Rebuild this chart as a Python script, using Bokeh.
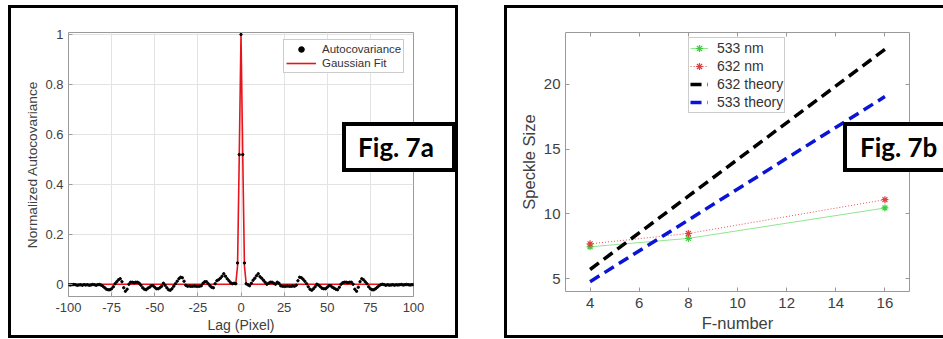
from bokeh.plotting import figure
from bokeh.models import (Legend, LegendItem, FixedTicker, LinearAxis, Range1d, Div)
from bokeh.layouts import row
from bokeh.embed import file_html
from bokeh.resources import INLINE

# ---------------- Fig. 7a data ----------------
lags = list(range(-100, 101))
# normalized autocovariance, lags -100 .. -1
acov_neg = [0.000, -0.001, 0.000, 0.001, 0.000, -0.002, -0.001, 0.000, -0.002, 0.000,
            -0.001, 0.000, -0.002, -0.001, 0.001, 0.000, -0.002, 0.000, 0.001,
            -0.002, -0.006, -0.012, -0.018, -0.020, -0.020, -0.016, -0.008, 0.004, 0.012,
            0.020, 0.024, 0.012, -0.012, -0.026, -0.018, 0.002, 0.010, 0.010, 0.008,
            0.010, 0.010, 0.006, -0.002, -0.012, -0.018, -0.020, -0.014, -0.010, -0.004,
            -0.004, -0.010, -0.016, -0.016, -0.012, -0.006, 0.006, -0.002, -0.012, -0.020,
            -0.022, -0.016, -0.006, 0.004, 0.014, 0.024, 0.030, 0.028, 0.014, -0.002,
            -0.006, -0.005, -0.006, -0.006, -0.005, -0.006, -0.006, -0.006, -0.004, 0.006,
            0.012, 0.012, 0.004, -0.004, -0.010, -0.012, 0.004, 0.016, 0.020, 0.026,
            0.034, 0.044, 0.034, 0.024, 0.016, 0.008, 0.004, 0.006, 0.004, 0.087,
            0.520]
# lags 0 .. 100
acov_pos = [1.000, 0.520, 0.087, 0.004, 0.000, -0.004, 0.006, 0.018, 0.026, 0.036,
            0.044, 0.032, 0.026, 0.018, 0.010, 0.002, 0.006, 0.010, 0.010, 0.006,
            0.002, 0.010, 0.006, -0.004, -0.006, -0.006, -0.006, -0.005, -0.006, -0.006,
            -0.005, -0.006, -0.002, 0.016, 0.030, 0.028, 0.022, 0.014, 0.004, -0.008,
            -0.018, -0.022, -0.016, -0.008, 0.002, -0.002, -0.008, -0.014, -0.016, -0.016,
            -0.010, -0.004, -0.004, -0.010, -0.014, -0.018, -0.020, -0.010, 0.002, 0.008,
            0.010, 0.010, 0.008, 0.010, 0.010, 0.002, -0.018, -0.026, -0.010, 0.012,
            0.024, 0.020, 0.012, 0.004, -0.008, -0.016, -0.020, -0.020, -0.016, -0.010,
            -0.004, 0.000, 0.002, 0.000, -0.002, 0.000, -0.002, -0.001, 0.000, -0.002,
            0.000, -0.001, 0.000, 0.001, -0.001, 0.000, 0.001, 0.000, -0.001, 0.000,
            0.000]
acov = acov_neg + acov_pos

fit_lag = [-100, -4, -3, -2, -1, 0, 1, 2, 3, 4, 100]
fit_val = [0.002, 0.002, 0.005, 0.075, 0.52, 1.0, 0.52, 0.075, 0.005, 0.002, 0.002]

x1_ticks = [-100, -75, -50, -25, 0, 25, 50, 75, 100]
x1_labels = ["-100", "-75", "-50", "-25", "0", "25", "50", "75", "100"]
y1_ticks = [0, 0.2, 0.4, 0.6, 0.8, 1]
y1_labels = ["0", "0.2", "0.4", "0.6", "0.8", "1"]

# ---------------- Fig. 7b data ----------------
fnum = [4, 8, 16]
s533 = [7.45, 8.10, 10.45]
s632 = [7.68, 8.48, 11.09]
theory632 = [5.70, 11.36, 22.70]
theory533 = [4.76, 9.52, 19.05]
x2_ticks = [4, 6, 8, 10, 12, 14, 16]
y2_ticks = [5, 10, 15, 20]

FONT = "Liberation Sans"
TXT = "#404040"
AXC = "#9a9a9a"


def style_axis(ax, size, lsize, lab_standoff, axlab_standoff):
    ax.axis_line_color = None
    ax.major_tick_line_color = AXC
    ax.major_tick_in = 4
    ax.major_tick_out = 0
    ax.minor_tick_line_color = None
    ax.major_label_text_font = FONT
    ax.major_label_text_font_size = size
    ax.major_label_text_color = TXT
    ax.axis_label_text_font = FONT
    ax.axis_label_text_font_size = lsize
    ax.axis_label_text_font_style = "normal"
    ax.axis_label_text_color = TXT
    ax.major_label_standoff = lab_standoff
    ax.axis_label_standoff = axlab_standoff


# ---------------- Figure 1 ----------------
p1 = figure(frame_width=345, frame_height=264, min_border_left=68, min_border_right=65,
            min_border_top=32, min_border_bottom=42,
            x_range=Range1d(-100, 100), y_range=Range1d(-0.047, 1.008),
            output_backend="svg", toolbar_location=None, tools="")
p1.outline_line_color = AXC
p1.xaxis.ticker = FixedTicker(ticks=x1_ticks)
p1.yaxis.ticker = FixedTicker(ticks=y1_ticks)
p1.xaxis.major_label_overrides = dict(zip(x1_ticks, x1_labels))
p1.yaxis.major_label_overrides = dict(zip(y1_ticks, y1_labels))
p1.xaxis.axis_label = "Lag (Pixel)"
p1.yaxis.axis_label = "Normalized Autocovariance"
style_axis(p1.xaxis[0], "13px", "14px", 6, 2)
style_axis(p1.yaxis[0], "13px", "13.7px", 5, 2)
p1.grid.grid_line_color = "#e3e3e3"

fitline = p1.line(fit_lag, fit_val, line_color="#e8141c", line_width=1.6)
dots = p1.scatter(lags, acov, marker="circle", size=2.4, fill_color="black", line_color="black")

leg1 = Legend(items=[LegendItem(label="Autocovariance", renderers=[dots]),
                     LegendItem(label="Gaussian Fit", renderers=[fitline])],
              location=(215, 223), padding=2, spacing=0,
              glyph_width=30, glyph_height=14, label_height=14, label_standoff=6,
              label_text_font=FONT, label_text_font_size="11.5px", label_text_color="#333333",
              border_line_color=AXC, background_fill_color="white", background_fill_alpha=1)
p1.add_layout(leg1)

# ---------------- Figure 2 ----------------
p2 = figure(frame_width=344, frame_height=259, min_border_left=87, min_border_right=33,
            min_border_top=32, min_border_bottom=47,
            x_range=Range1d(3, 17), y_range=Range1d(4, 24),
            output_backend="svg", toolbar_location=None, tools="")
p2.outline_line_color = AXC
p2.grid.grid_line_color = None
p2.xaxis.ticker = FixedTicker(ticks=x2_ticks)
p2.yaxis.ticker = FixedTicker(ticks=y2_ticks)
p2.xaxis.axis_label = "F-number"
p2.yaxis.axis_label = "Speckle Size"
style_axis(p2.xaxis[0], "15px", "16.5px", 6, 3)
style_axis(p2.yaxis[0], "15px", "16.5px", 5, 3)
for loc, tk in (("above", x2_ticks), ("right", y2_ticks)):
    ax = LinearAxis(ticker=FixedTicker(ticks=tk))
    style_axis(ax, "15px", "15px", 0, 0)
    ax.major_label_text_color = None
    p2.add_layout(ax, loc)

l533 = p2.line(fnum, s533, line_color="#8fe68f", line_width=1)
m533 = p2.scatter(fnum, s533, marker="asterisk", size=7, line_color="#3ccf3c", line_width=1.2)
l632 = p2.line(fnum, s632, line_color="#e85050", line_width=1, line_dash="1 2")
m632 = p2.scatter(fnum, s632, marker="asterisk", size=7, line_color="#e04040", line_width=1.2)
t632 = p2.line(fnum, theory632, line_color="black", line_width=3.5, line_dash="11 6")
t533 = p2.line(fnum, theory533, line_color="#0a14d6", line_width=3.5, line_dash="11 6")

leg2 = Legend(items=[LegendItem(label="533 nm", renderers=[l533, m533]),
                     LegendItem(label="632 nm", renderers=[l632, m632]),
                     LegendItem(label="632 theory", renderers=[t632]),
                     LegendItem(label="533 theory", renderers=[t533])],
              location=(123, 178), padding=1, spacing=0,
              glyph_width=18, glyph_height=18, label_height=18, label_standoff=9,
              label_text_font=FONT, label_text_font_size="14px", label_text_color="#333333",
              border_line_color=AXC, background_fill_color="white", background_fill_alpha=1)
p2.add_layout(leg2)


# ---------------- panel frames and figure tags (page coordinates) ----------------
def deco(left, top, width, height, border, extra=None, text=""):
    st = {"position": "absolute", "left": f"{left}px", "top": f"{top}px",
          "width": f"{width}px", "height": f"{height}px", "box-sizing": "border-box",
          "border": border, "z-index": "10", "pointer-events": "none",
          "background": "transparent", "margin": "0px"}
    if extra:
        st.update(extra)
    return Div(text=text, width=width, height=height, margin=0, styles=st)


tag_style = {"background": "white", "font-family": "Lato", "font-weight": "bold",
             "font-size": "26px", "color": "black", "display": "flex",
             "align-items": "center", "line-height": "26px"}

box1 = deco(8, 5, 450, 333, "3px solid black")
box2 = deco(504, 5, 439, 333, "3px solid black", {"border-right": "none"})
tag1 = deco(342, 122, 114, 50, "4px solid black",
            dict(tag_style, **{"justify-content": "center", "padding-right": "6px"}), "Fig. 7a")
tag2 = deco(843, 122, 100, 50, "4px solid black",
            dict(tag_style, **{"border-right": "none", "padding-left": "13px"}), "Fig. 7b")

layout = row(p1, p2, box1, box2, tag1, tag2)
open("out.html", "w").write(file_html(layout, INLINE))
